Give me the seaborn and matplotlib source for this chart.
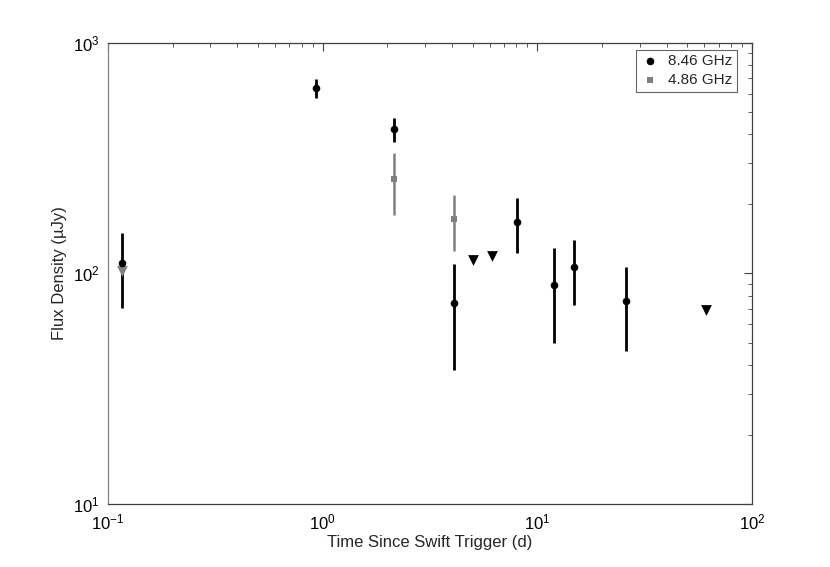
import matplotlib
matplotlib.use("Agg")
import matplotlib.pyplot as plt
import seaborn as sns
import pandas as pd
import numpy as np

# 8.46 GHz detections
t_x = [0.116, 0.927, 2.15, 4.09, 8.05, 12.0, 14.9, 25.9]
f_x = [110.7, 638, 421, 74, 166, 89, 106, 76.2]
lo_x = [70.6, 574, 371, 38, 122, 50, 73, 46]
hi_x = [150, 697, 470, 110, 212, 128.6, 140, 106]
# 8.46 GHz upper limits
t_xu = [5.03, 6.12, 60.8]
f_xu = [114, 119, 69.4]
# 4.86 GHz detections
t_c = [2.15, 4.09]
f_c = [257, 171.6]
lo_c = [179, 125]
hi_c = [333, 219]
# 4.86 GHz upper limits
t_cu = [0.116]
f_cu = [102]

sns.set_style("white")
plt.rcParams['font.family'] = ['Liberation Sans', 'DejaVu Sans']

fig = plt.figure(figsize=(8.3, 5.67), dpi=100)
ax = fig.add_axes([0.130, 0.111, 0.776, 0.814])

grey = "#808080"
ax.vlines(t_c, lo_c, hi_c, color=grey, lw=1.8, zorder=2)
ax.vlines(t_x, lo_x, hi_x, color="black", lw=2.0, zorder=2)

dx = pd.DataFrame({"t": t_x, "f": f_x})
dc = pd.DataFrame({"t": t_c, "f": f_c})
sns.scatterplot(data=dx, x="t", y="f", ax=ax, marker="o", color="black", s=30,
                edgecolor="black", linewidth=0, zorder=3, label="8.46 GHz")
sns.scatterplot(data=dc, x="t", y="f", ax=ax, marker="s", color=grey, s=22,
                edgecolor=grey, linewidth=0, zorder=3, label="4.86 GHz")
sns.scatterplot(x=t_xu, y=f_xu, ax=ax, marker="v", color="black", s=60,
                linewidth=0, zorder=3, legend=False)
sns.scatterplot(x=t_cu, y=f_cu, ax=ax, marker="v", color=grey, s=60,
                linewidth=0, zorder=2.5, legend=False)

ax.set_xscale("log")
ax.set_yscale("log")
ax.set_xlim(0.1, 100)
ax.set_ylim(10, 1000)
ax.set_xlabel("Time Since Swift Trigger (d)", fontsize=12, labelpad=2)
ax.set_ylabel("Flux Density (\u00b5Jy)", fontsize=12)

for s in ax.spines.values():
    s.set_color("#404040")
    s.set_linewidth(0.9)
ax.spines["left"].set_color("#808080")
ax.tick_params(which="both", direction="in", top=True, right=True,
               labelsize=12, colors="#404040", labelcolor="black")
ax.tick_params(which="major", length=6, pad=6)
ax.tick_params(which="minor", length=3)

leg = ax.legend(loc="upper right", bbox_to_anchor=(0.977, 0.984),
                fontsize=11, frameon=True, fancybox=False,
                handletextpad=0.6, borderpad=0.3, labelspacing=0.3,
                handlelength=1.2, borderaxespad=0.0)
leg.get_frame().set_edgecolor("#404040")
leg.get_frame().set_linewidth(0.8)

fig.savefig("out.png", dpi=100)
